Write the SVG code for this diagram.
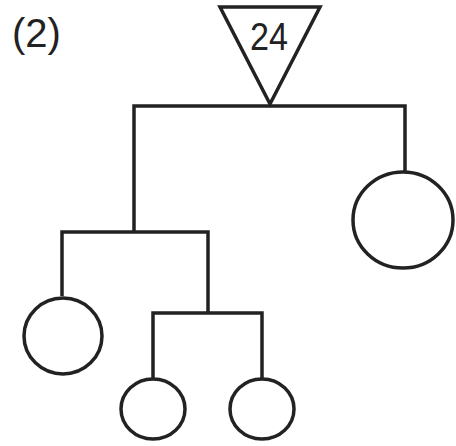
<svg xmlns="http://www.w3.org/2000/svg" width="456" height="446" viewBox="0 0 456 446">
<style>
.s{fill:none;stroke:#222;stroke-width:3.5}
.n{fill:#fff;stroke:#222;stroke-width:3.5}
text{font-family:"Liberation Sans",Arial,sans-serif;fill:#222}
</style>
<rect width="456" height="446" fill="#fff"/>
<text x="12" y="47" font-size="40">(2)</text>
<g id="connectors">
<path class="s" d="M134 232 V106 H405 V172"/>
<path class="s" d="M62 296 V232 H208 V313"/>
<path class="s" d="M153 378 V313 H262 V378"/>
</g>
<g id="root">
<polygon class="n" points="220,7 320,7 270,104"/>
<text x="269" y="50" font-size="38" text-anchor="middle" textLength="38" lengthAdjust="spacingAndGlyphs">24</text>
</g>
<g id="rightCircle"><ellipse class="n" cx="403" cy="220" rx="50" ry="48"/></g>
<g id="leftCircle"><ellipse class="n" cx="63" cy="336" rx="39" ry="38"/></g>
<g id="bottomLeft"><ellipse class="n" cx="153" cy="409" rx="32" ry="30"/></g>
<g id="bottomRight"><ellipse class="n" cx="262" cy="409" rx="32" ry="30"/></g>
</svg>
